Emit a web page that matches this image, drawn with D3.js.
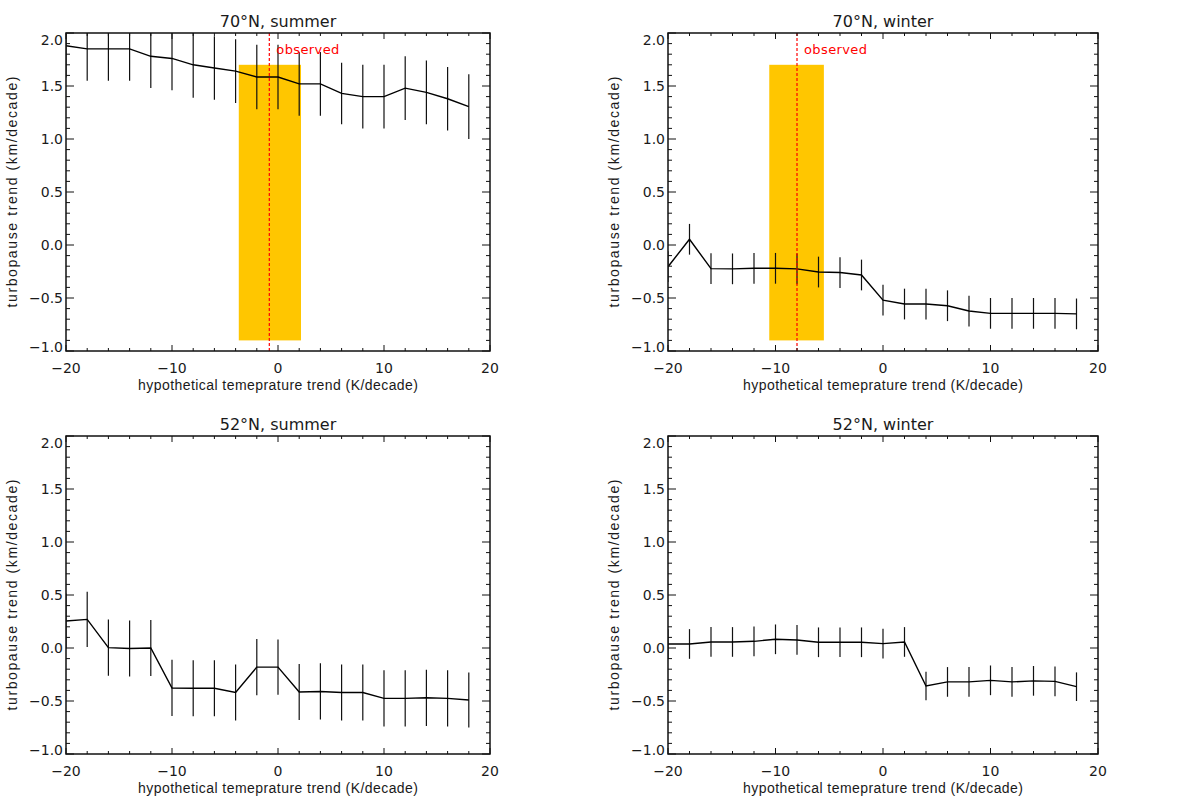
<!DOCTYPE html>
<html>
<head>
<meta charset="utf-8">
<script src="https://cdn.jsdelivr.net/npm/d3@7"></script>
<style>
  body { margin: 0; background: #fff; }
  text { font-family: "DejaVu Sans", sans-serif; fill: #1a1a1a; }
  text.atitle { font-family: "Liberation Sans", sans-serif; }
</style>
</head>
<body>
<div id="chart"></div>
<script>
// x positions (hypothetical temperature trend, K/decade)
const tempTrend = [-20, -18, -16, -14, -12, -10, -8, -6, -4, -2, 0, 2, 4, 6, 8, 10, 12, 14, 16, 18];

// turbopause trends (km/decade)
const summer70 = [1.88, 1.85, 1.85, 1.85, 1.78, 1.76, 1.70, 1.67, 1.64, 1.585, 1.585, 1.52, 1.52, 1.43, 1.40, 1.40, 1.48, 1.44, 1.38, 1.305];
const summer70Err = [0.30, 0.30, 0.30, 0.30, 0.30, 0.30, 0.31, 0.30, 0.30, 0.305, 0.305, 0.30, 0.30, 0.29, 0.30, 0.30, 0.30, 0.30, 0.30, 0.305];

const winter70 = [-0.205, 0.054, -0.223, -0.225, -0.22, -0.22, -0.225, -0.255, -0.26, -0.283, -0.52, -0.557, -0.557, -0.573, -0.623, -0.645, -0.645, -0.645, -0.645, -0.65];
const winter70Err = [0.145, 0.145, 0.145, 0.145, 0.145, 0.145, 0.145, 0.145, 0.145, 0.145, 0.145, 0.145, 0.145, 0.145, 0.145, 0.145, 0.145, 0.145, 0.145, 0.145];

const summer52 = [0.255, 0.27, 0.003, -0.005, 0.0, -0.377, -0.38, -0.38, -0.42, -0.18, -0.18, -0.415, -0.41, -0.42, -0.42, -0.475, -0.475, -0.47, -0.475, -0.49];
const summer52Err = [0.26, 0.26, 0.265, 0.265, 0.265, 0.265, 0.265, 0.265, 0.265, 0.265, 0.26, 0.265, 0.265, 0.265, 0.265, 0.265, 0.265, 0.265, 0.265, 0.26];

const winter52 = [0.038, 0.038, 0.057, 0.057, 0.063, 0.082, 0.076, 0.054, 0.054, 0.054, 0.041, 0.057, -0.358, -0.32, -0.32, -0.305, -0.32, -0.31, -0.315, -0.365];
const winter52Err = [0.14, 0.14, 0.14, 0.14, 0.14, 0.14, 0.14, 0.14, 0.14, 0.14, 0.14, 0.14, 0.135, 0.14, 0.14, 0.14, 0.14, 0.14, 0.14, 0.135];

// observed temperature trend and its range (only for 70N)
const observed70Summer = { value: -0.82, lo: -3.7, hi: 2.17 };
const observed70Winter = { value: -8.0, lo: -10.58, hi: -5.5 };
const observedBand = [-0.9, 1.7];

const titles = ["70°N, summer", "70°N, winter", "52°N, summer", "52°N, winter"];
const xTicks = [-20, -10, 0, 10, 20];
const yTicks = [-1.0, -0.5, 0.0, 0.5, 1.0, 1.5, 2.0];

const width = 1182, height = 801;

const svg = d3.select("#chart")
  .append("svg")
  .attr("width", width)
  .attr("height", height);

// plot boxes (left, top, right, bottom) for the 4 panels
const boxes = [
  { l: 66, t: 33, r: 490, b: 351 },
  { l: 668, t: 33, r: 1098, b: 351 },
  { l: 66, t: 436, r: 490, b: 754 },
  { l: 668, t: 436, r: 1098, b: 754 }
];

const panels = [
  { y: summer70, err: summer70Err, obs: observed70Summer },
  { y: winter70, err: winter70Err, obs: observed70Winter },
  { y: summer52, err: summer52Err, obs: null },
  { y: winter52, err: winter52Err, obs: null }
];

panels.forEach((p, i) => {
  const box = boxes[i];
  const x = d3.scaleLinear().domain([-20, 20]).range([box.l, box.r]);
  const y = d3.scaleLinear().domain([-1, 2]).range([box.b, box.t]);
  const g = svg.append("g");

  const clipId = "clip" + i;
  g.append("clipPath").attr("id", clipId)
    .append("rect")
    .attr("x", box.l).attr("y", box.t)
    .attr("width", box.r - box.l).attr("height", box.b - box.t);

  const plot = g.append("g").attr("clip-path", `url(#${clipId})`);

  // observed range
  if (p.obs) {
    plot.append("rect")
      .attr("x", x(p.obs.lo))
      .attr("y", y(observedBand[1]))
      .attr("width", x(p.obs.hi) - x(p.obs.lo))
      .attr("height", y(observedBand[0]) - y(observedBand[1]))
      .attr("fill", "#ffc600");
  }

  const pts = tempTrend.map((t, k) => ({ t: t, v: p.y[k], e: p.err[k] }));

  // error bars
  plot.selectAll("line.err")
    .data(pts)
    .join("line")
    .attr("class", "err")
    .attr("x1", d => x(d.t)).attr("x2", d => x(d.t))
    .attr("y1", d => y(d.v + d.e)).attr("y2", d => y(d.v - d.e))
    .attr("stroke", "#111")
    .attr("stroke-width", 1.2);

  // line
  plot.append("path")
    .datum(pts)
    .attr("fill", "none")
    .attr("stroke", "#000")
    .attr("stroke-width", 1.4)
    .attr("d", d3.line().x(d => x(d.t)).y(d => y(d.v)));

  if (p.obs) {
    plot.append("line")
      .attr("x1", x(p.obs.value)).attr("x2", x(p.obs.value))
      .attr("y1", box.t).attr("y2", box.b)
      .attr("stroke", "#ff0000")
      .attr("stroke-width", 1.2)
      .attr("stroke-dasharray", "3,2");
    g.append("text")
      .attr("x", x(p.obs.value) + 7)
      .attr("y", box.t + 21)
      .attr("font-size", 13)
      .attr("textLength", 63)
      .attr("lengthAdjust", "spacing")
      .style("fill", "#ff0000")
      .text("observed");
  }

  // axes: ticks inward on all four sides
  const xMinor = d3.range(-20, 20.01, 2);
  const yMinor = d3.range(-1, 2.001, 0.1);
  const tickG = g.append("g").attr("stroke", "#111").attr("stroke-width", 1);
  xMinor.forEach(v => {
    const len = Math.abs(v % 10) < 0.01 ? 6 : 3;
    tickG.append("line").attr("x1", x(v)).attr("x2", x(v)).attr("y1", box.b).attr("y2", box.b - len);
    tickG.append("line").attr("x1", x(v)).attr("x2", x(v)).attr("y1", box.t).attr("y2", box.t + len);
  });
  yMinor.forEach(v => {
    const isMajor = Math.abs(Math.round(v * 10) % 5) === 0;
    const len = isMajor ? 8 : 4;
    tickG.append("line").attr("x1", box.l).attr("x2", box.l + len).attr("y1", y(v)).attr("y2", y(v));
    tickG.append("line").attr("x1", box.r).attr("x2", box.r - len).attr("y1", y(v)).attr("y2", y(v));
  });

  g.append("rect")
    .attr("x", box.l).attr("y", box.t)
    .attr("width", box.r - box.l).attr("height", box.b - box.t)
    .attr("fill", "none")
    .attr("stroke", "#111")
    .attr("stroke-width", 1.5);

  // tick labels
  g.selectAll("text.xt")
    .data(xTicks)
    .join("text")
    .attr("class", "xt")
    .attr("x", d => x(d))
    .attr("y", box.b + 22)
    .attr("text-anchor", "middle")
    .attr("font-size", 14)
    .text(d => d3.format("d")(d).replace("-", "\u2212"));

  g.selectAll("text.yt")
    .data(yTicks)
    .join("text")
    .attr("class", "yt")
    .attr("x", box.l - 3)
    .attr("y", d => {
      let cy = y(d);
      if (d === 2) cy += 7;
      if (d === -1) cy -= 4;
      return cy + 5;
    })
    .attr("text-anchor", "end")
    .attr("font-size", 14)
    .text(d => d3.format(".1f")(d).replace("-", "\u2212"));

  // titles
  g.append("text")
    .attr("x", (box.l + box.r) / 2)
    .attr("y", box.t - 6)
    .attr("text-anchor", "middle")
    .attr("font-size", 16)
    .text(titles[i]);

  g.append("text")
    .attr("class", "atitle")
    .attr("x", (box.l + box.r) / 2)
    .attr("y", box.b + 39)
    .attr("text-anchor", "middle")
    .attr("font-size", 14)
    .attr("textLength", 280)
    .attr("lengthAdjust", "spacing")
    .text("hypothetical temeprature trend (K/decade)");

  const cy = (box.t + box.b) / 2;
  const cx = box.l - 49;
  g.append("text")
    .attr("class", "atitle")
    .attr("transform", `translate(${cx},${cy}) rotate(-90)`)
    .attr("text-anchor", "middle")
    .attr("font-size", 14)
    .attr("textLength", 231)
    .attr("lengthAdjust", "spacing")
    .text("turbopause trend (km/decade)");
});
</script>
</body>
</html>
